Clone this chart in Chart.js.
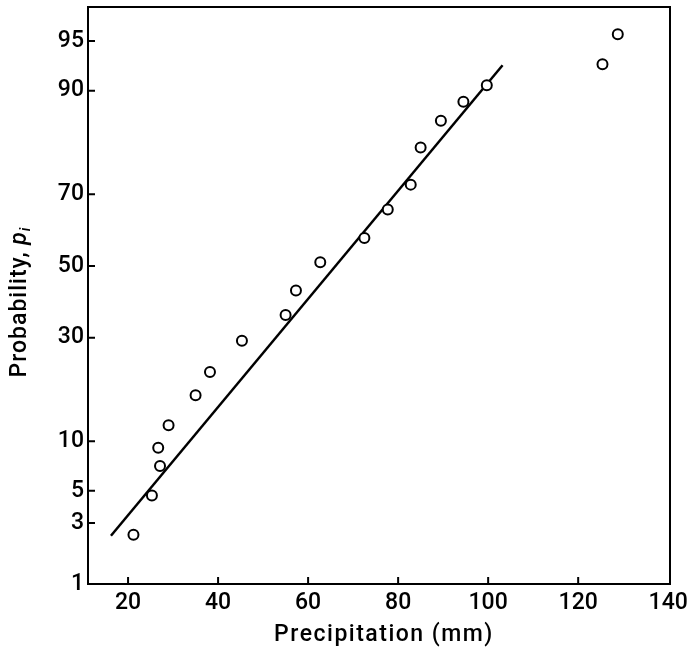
<!DOCTYPE html>
<html>
<head>
<meta charset="utf-8">
<script src="https://cdn.jsdelivr.net/npm/chart.js@4.4.1/dist/chart.umd.min.js"></script>
<style>
  html, body { margin: 0; padding: 0; background: #fff; }
  #wrap { width: 690px; height: 656px; }
</style>
</head>
<body>
<div id="wrap"><canvas id="c" width="690" height="656"></canvas></div>
<script>
// ---- data ----
const precipitation = [21.2, 25.3, 27.1, 26.7, 29.0, 35.0, 38.2, 45.3, 55.0, 57.3,
                       62.7, 72.5, 77.7, 82.8, 85.0, 89.5, 94.5, 99.7, 125.4, 128.8];
const probabilityPct = [2.46, 4.66, 7.16, 9.18, 12.2, 17.2, 21.9, 29.2, 36.0, 42.9,
                        51.1, 58.1, 66.0, 72.4, 80.7, 85.6, 88.5, 90.7, 93.0, 95.5];
const fitLineX = [16.2, 103.2];
const fitLineP = [2.42, 92.9];
const xTickValues = [20, 40, 60, 80, 100, 120, 140];
const yTickProbs = [1, 3, 5, 10, 30, 50, 70, 90, 95];
const xTitle = 'Precipitation (mm)';
const yTitleMain = 'Probability, ';
const yTitleVar = 'p';
const yTitleSub = 'i';

// inverse standard normal CDF (probability-paper transform), Acklam's approximation
function probit(p) {
  const a = [-3.969683028665376e+01, 2.209460984245205e+02, -2.759285104469687e+02,
             1.383577518672690e+02, -3.066479806614716e+01, 2.506628277459239e+00];
  const b = [-5.447609879822406e+01, 1.615858368580409e+02, -1.556989798598866e+02,
             6.680131188771972e+01, -1.328068155288572e+01];
  const c = [-7.784894002430293e-03, -3.223964580411365e-01, -2.400758277161838e+00,
             -2.549732539343734e+00, 4.374664141464968e+00, 2.938163982698783e+00];
  const d = [7.784695709041462e-03, 3.224671290700398e-01, 2.445134137142996e+00,
             3.754408661907416e+00];
  const pl = 0.02425, ph = 1 - pl;
  let q, r;
  if (p < pl) {
    q = Math.sqrt(-2 * Math.log(p));
    return (((((c[0]*q+c[1])*q+c[2])*q+c[3])*q+c[4])*q+c[5]) / ((((d[0]*q+d[1])*q+d[2])*q+d[3])*q+1);
  } else if (p <= ph) {
    q = p - 0.5; r = q * q;
    return (((((a[0]*r+a[1])*r+a[2])*r+a[3])*r+a[4])*r+a[5])*q / (((((b[0]*r+b[1])*r+b[2])*r+b[3])*r+b[4])*r+1);
  } else {
    q = Math.sqrt(-2 * Math.log(1 - p));
    return -(((((c[0]*q+c[1])*q+c[2])*q+c[3])*q+c[4])*q+c[5]) / ((((d[0]*q+d[1])*q+d[2])*q+d[3])*q+1);
  }
}
const z = pct => probit(pct / 100);

const pointData = precipitation.map((x, i) => ({ x: x, y: z(probabilityPct[i]) }));
const lineData = fitLineX.map((x, i) => ({ x: x, y: z(fitLineP[i]) }));
const yTickZ = yTickProbs.map(z);

const FONT_FAMILY = 'Roboto, "Liberation Sans", Arial, sans-serif';
const tickFont = { family: FONT_FAMILY, size: 23, weight: '500' };

const decorations = {
  id: 'decorations',
  afterDraw(chart) {
    const ctx = chart.ctx;
    const a = chart.chartArea;
    const xs = chart.scales.x, ys = chart.scales.y;
    ctx.save();
    ctx.strokeStyle = '#000';
    ctx.lineWidth = 2;
    // frame
    ctx.strokeRect(a.left, a.top, a.right - a.left, a.bottom - a.top);
    // inward tick marks
    const tl = 7;
    ctx.beginPath();
    xTickValues.forEach(v => {
      if (v >= 140) return;
      const px = xs.getPixelForValue(v);
      ctx.moveTo(px, a.bottom);
      ctx.lineTo(px, a.bottom - tl);
    });
    yTickZ.forEach((v, i) => {
      if (yTickProbs[i] === 1) return;
      const py = ys.getPixelForValue(v);
      ctx.moveTo(a.left, py);
      ctx.lineTo(a.left + tl, py);
    });
    ctx.stroke();

    // x axis title
    ctx.fillStyle = '#000';
    ctx.textBaseline = 'middle';
    ctx.textAlign = 'center';
    ctx.font = '500 23px ' + FONT_FAMILY;
    if ('letterSpacing' in ctx) ctx.letterSpacing = '1.5px';
    ctx.fillText(xTitle, (a.left + a.right) / 2 + 5, 635);

    // y axis title (rotated, with italic subscripted variable)
    ctx.translate(20, 302);
    ctx.rotate(-Math.PI / 2);
    ctx.textAlign = 'left';
    ctx.textBaseline = 'middle';
    if ('letterSpacing' in ctx) ctx.letterSpacing = '1px';
    const fMain = '500 23px ' + FONT_FAMILY;
    const fVar = 'italic 500 23px ' + FONT_FAMILY;
    const fSub = 'italic 500 15px ' + FONT_FAMILY;
    ctx.font = fMain; const w1 = ctx.measureText(yTitleMain).width;
    ctx.font = fVar;  const w2 = ctx.measureText(yTitleVar).width;
    ctx.font = fSub;  const w3 = ctx.measureText(yTitleSub).width;
    let x0 = -(w1 + w2 + w3) / 2;
    ctx.font = fMain; ctx.fillText(yTitleMain, x0, 0); x0 += w1;
    ctx.font = fVar;  ctx.fillText(yTitleVar, x0, 0); x0 += w2;
    ctx.font = fSub;  ctx.fillText(yTitleSub, x0, 6);
    ctx.restore();
  }
};

new Chart(document.getElementById('c'), {
  type: 'scatter',
  data: {
    datasets: [
      {
        label: 'observed',
        data: pointData,
        pointStyle: 'circle',
        pointRadius: 5,
        pointBorderWidth: 2,
        borderColor: '#000',
        backgroundColor: '#fff',
        order: 0
      },
      {
        label: 'fit',
        type: 'line',
        data: lineData,
        showLine: true,
        borderColor: '#000',
        borderWidth: 2.5,
        pointRadius: 0,
        fill: false,
        order: 1
      }
    ]
  },
  options: {
    responsive: false,
    animation: false,
    devicePixelRatio: 1,
    layout: { padding: { left: 0, right: 20, top: 7, bottom: 0 } },
    plugins: { legend: { display: false }, tooltip: { enabled: false } },
    scales: {
      x: {
        type: 'linear',
        min: 11.1,
        max: 140.4,
        afterBuildTicks: s => { s.ticks = xTickValues.map(v => ({ value: v })); },
        afterFit: s => { s.height = 72; s.paddingLeft = 0; s.paddingRight = 0; },
        grid: { display: false, drawTicks: false },
        border: { display: false },
        ticks: { color: '#000', font: tickFont, padding: 5, maxRotation: 0,
                 callback: v => String(v) }
      },
      y: {
        type: 'linear',
        min: z(1),
        max: 1.894,
        afterBuildTicks: s => { s.ticks = yTickZ.map(v => ({ value: v })); },
        afterFit: s => { s.width = 88; s.paddingTop = 0; s.paddingBottom = 0; },
        grid: { display: false, drawTicks: false },
        border: { display: false },
        ticks: { color: '#000', font: tickFont, padding: 4,
                 callback: (v, i) => String(yTickProbs[i]) }
      }
    }
  },
  plugins: [decorations]
});
</script>
</body>
</html>
